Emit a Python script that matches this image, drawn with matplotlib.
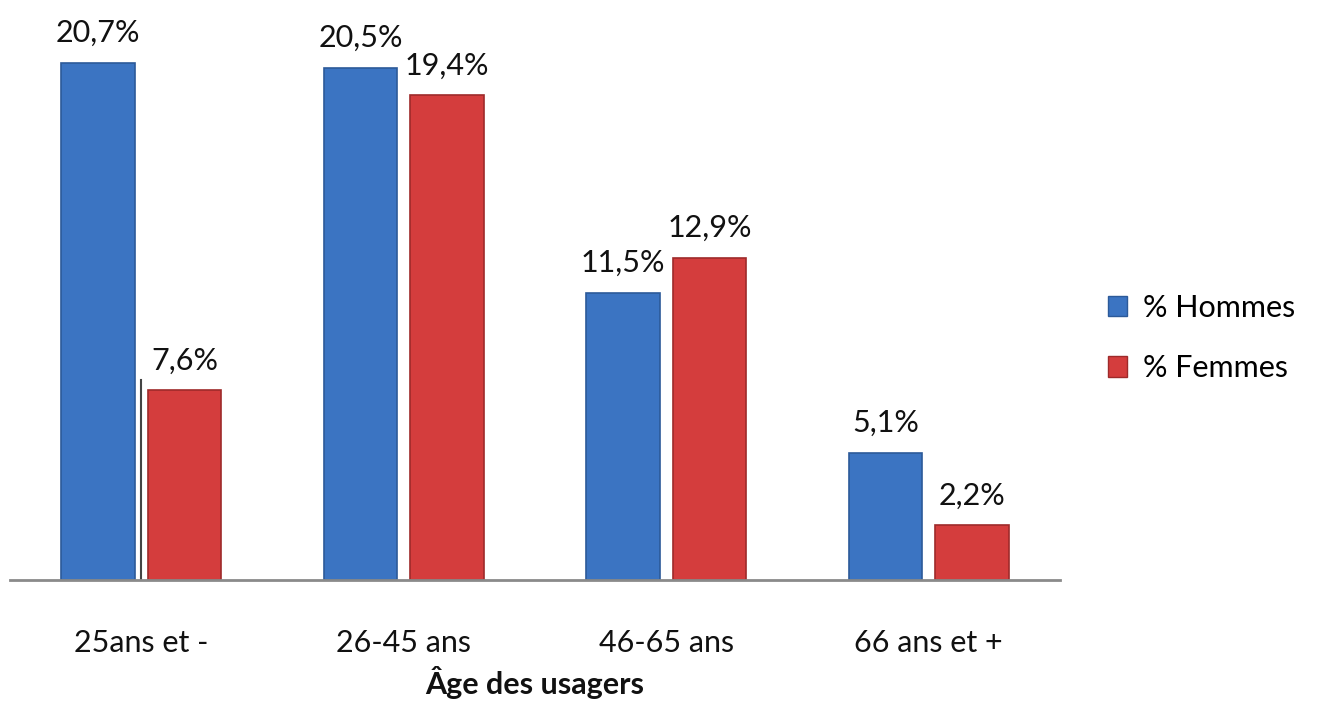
import matplotlib
matplotlib.use("Agg")
import matplotlib.pyplot as plt
import numpy as np
from matplotlib.patches import Patch

categories = ["25ans et -", "26-45 ans", "46-65 ans", "66 ans et +"]
hommes = [20.7, 20.5, 11.5, 5.1]
femmes = [7.6, 19.4, 12.9, 2.2]
series_names = ["% Hommes", "% Femmes"]
xlabel = "Âge des usagers"

plt.rcParams['font.family'] = ['Lato', 'DejaVu Sans']

W, H = 1320, 704
fig = plt.figure(figsize=(W / 100, H / 100), dpi=100)
ax = fig.add_axes([10 / W, 124 / H, 1050 / W, 562.5 / H])

x = np.arange(len(categories))
w = 0.28
off = 0.165
blue, blue_e = "#3b74c2", "#2c5a99"
red, red_e = "#d43d3d", "#9e2a2a"

b1 = ax.bar(x - off, hommes, w, color=blue, edgecolor=blue_e, linewidth=1.2)
b2 = ax.bar(x + off, femmes, w, color=red, edgecolor=red_e, linewidth=1.2)

def fmt(v):
    return f"{v:.1f}%".replace(".", ",")

for bars, vals in ((b1, hommes), (b2, femmes)):
    for r, v in zip(bars, vals):
        ax.annotate(fmt(v), (r.get_x() + r.get_width() / 2, v),
                    xytext=(0, 11), textcoords="offset points",
                    ha="center", va="bottom", fontsize=22, color="#111111")

# thin leader line in first group
ax.plot([x[0], x[0]], [0, femmes[0] + 0.4], color="#444444", lw=1.5)

ax.set_xlim(-0.5, len(categories) - 0.5)
ax.set_ylim(0, 22.5)
for s in ("top", "right", "left"):
    ax.spines[s].set_visible(False)
ax.spines["bottom"].set_color("#8a8a8a")
ax.spines["bottom"].set_linewidth(2)
ax.set_yticks([])
ax.set_xticks(x)
ax.set_xticklabels(categories, fontsize=22, color="#111111")
ax.tick_params(axis="x", length=0, pad=35)
ax.set_xlabel(xlabel, fontsize=22, fontweight="bold", labelpad=7, color="#111111")

handles = [Patch(facecolor=blue, edgecolor=blue_e), Patch(facecolor=red, edgecolor=red_e)]
fig.legend(handles, series_names, loc="center left", bbox_to_anchor=(1080 / W, 1 - 338 / H),
           frameon=False, fontsize=22, handlelength=0.65, handleheight=0.65,
           handletextpad=0.5, labelspacing=1.05)

fig.savefig("out.png", dpi=100)
